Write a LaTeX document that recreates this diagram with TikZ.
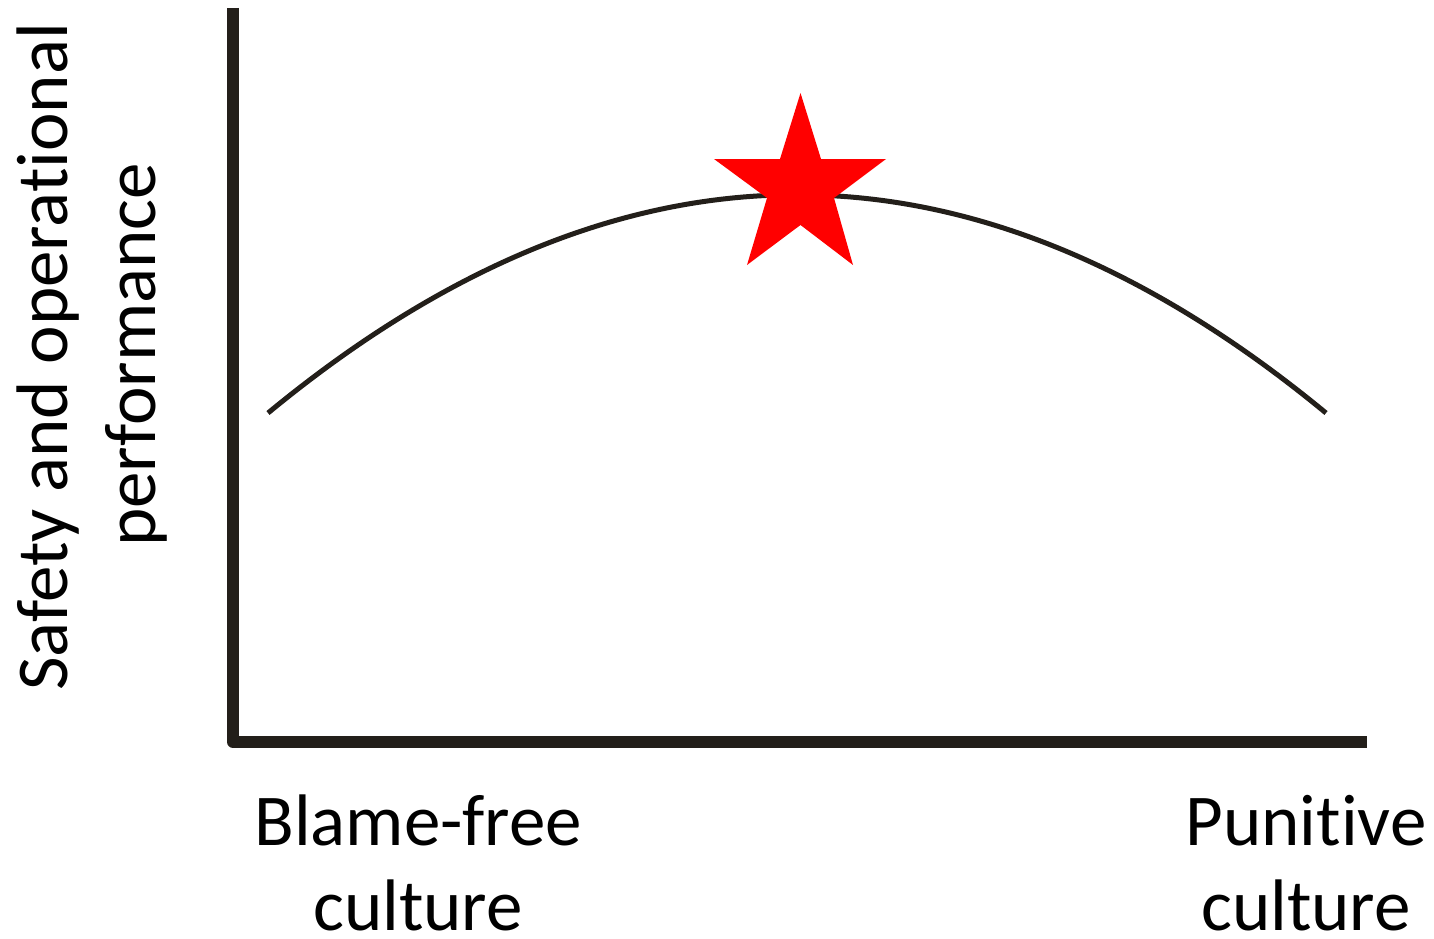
\documentclass[tikz,border=0pt]{standalone}
\usepackage{fontspec}
\setmainfont{Carlito}[Ligatures=CommonOff]
\definecolor{axisc}{RGB}{35,31,26}
\definecolor{starred}{RGB}{255,0,0}
\begin{document}
\begin{tikzpicture}[x=1pt,y=-1pt,
  axis/.style={draw=axisc,line width=12pt,line join=round,line cap=butt},
  curvec/.style={draw=axisc,line width=5pt},
  lbl/.style={inner sep=0pt,anchor=base,font=\fontsize{73}{88}\selectfont}]
\useasboundingbox (0,0) rectangle (1434,939);
\coordinate (ytop) at (233,8);
\coordinate (orig) at (233,742);
\coordinate (xend) at (1366.5,742);
\draw[axis] (ytop) -- (orig) -- (xend);
\coordinate (cL) at (268,413);
\coordinate (cR) at (1326,413);
\draw[curvec] (cL) .. controls (620.7,122) and (973.3,122) .. (cR);
\fill[starred] (800.5,93) -- (821,159) -- (886,159) -- (834,198) -- (853,265)
  -- (800.5,225) -- (747,265) -- (767,198) -- (714,159) -- (780,159) -- cycle;
\node[lbl] (bf1) at (418,845) {Blame-free};
\node[lbl] (bf2) at (418,930) {culture};
\node[lbl] (pu1) at (1306,845) {Punitive};
\node[lbl] (pu2) at (1306,930) {culture};
\node[lbl,rotate=90] (yl1) at (67,357) {Safety and operational};
\node[lbl,rotate=90] (yl2) at (155,355) {performance};
\end{tikzpicture}
\end{document}
